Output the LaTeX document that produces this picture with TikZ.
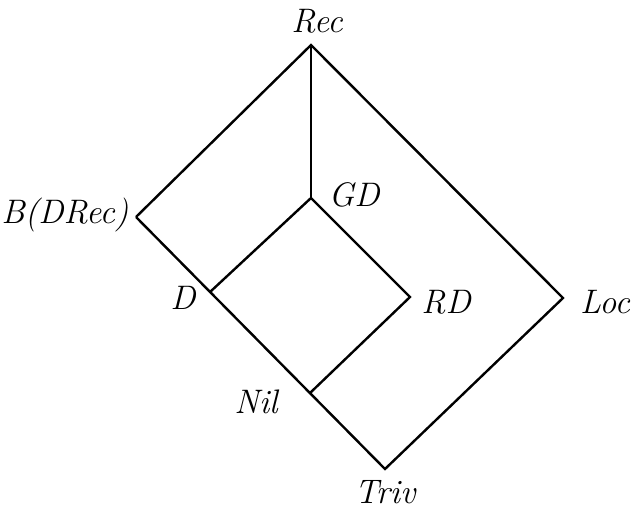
\documentclass[tikz,border=0pt]{standalone}
\usepackage{tikz}
\usetikzlibrary{calc}
\tikzset{>=latex}
\tikzset{edge/.style = {line width = 1.2pt, line join = miter},
  cls/.style = {font = \fontsize{17}{20}\selectfont\itshape, inner sep = 0pt}}

\begin{document}
\begin{tikzpicture}[x = 0.5pt, y = -0.5pt]
\useasboundingbox (0,0) rectangle (631,510);

\coordinate (rec) at (311,45);
\coordinate (bdrec) at (136,217);
\coordinate (d) at (210,292);
\coordinate (gd) at (311,198);
\coordinate (rd) at (410,297);
\coordinate (nil) at (310,393);
\coordinate (triv) at (385,469);
\coordinate (loc) at (563,298);

% outer square
\draw[edge] (bdrec) -- (rec) -- (loc) -- (triv) -- (bdrec);
% inner part
\draw[edge] (rec) -- (gd);
\draw[edge] (d) -- (gd) -- (rd) -- (nil);

\node[cls] (lrec) at (317,21) {Rec};
\node[cls] (lbdrec) at (65,215) {B(DRec)};
\node[cls] (ld) at (183,298) {D};
\node[cls] (lgd) at (354,195) {GD};
\node[cls] (lrd) at (446,302) {RD};
\node[cls] (lloc) at (605,302) {Loc};
\node[cls] (lnil) at (256,402) {Nil};
\node[cls] (ltriv) at (385,492) {Triv};

\end{tikzpicture}
\end{document}
